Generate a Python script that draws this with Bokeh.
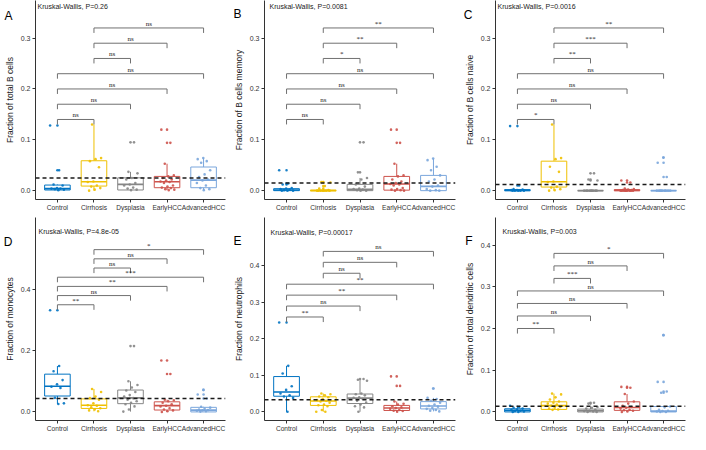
from bokeh.plotting import figure
from bokeh.layouts import gridplot
from bokeh.models import (Span, Label, LinearAxis, FixedTicker, NumeralTickFormatter,
                          CustomJSTickFormatter, Range1d, ColumnDataSource)
from bokeh.embed import file_html
from bokeh.resources import INLINE

FONT = "Liberation Sans"

groups = ["Control", "Cirrhosis", "Dysplasia", "EarlyHCC", "AdvancedHCC"]
colors = ["#0073C2", "#EFC000", "#868686", "#CD534C", "#7AA6DC"]
comparisons = [(0, 1), (0, 2), (0, 3), (0, 4), (1, 2), (1, 3), (1, 4)]

# ---------------- Panel A : total B cells ----------------
A_ylabel = "Fraction of total B cells"
A_kw = "Kruskal-Wallis, P=0.26"
A_q1 = [0.0013, 0.009, 0.0013, 0.0058, 0.0058]
A_med = [0.0039, 0.0174, 0.0123, 0.0174, 0.0207]
A_q3 = [0.011, 0.0588, 0.0252, 0.028, 0.0465]
A_lo = [0.001, 0.000, 0.001, 0.001, 0.001]
A_hi = [0.012, 0.130, 0.037, 0.053, 0.064]
A_pts = [
    [0.128, 0.040, 0.012, 0.010, 0.005, 0.004, 0.004, 0.003, 0.002, 0.001],
    [0.130, 0.064, 0.062, 0.058, 0.046, 0.018, 0.017, 0.010, 0.008, 0.005, 0.002, 0.000],
    [0.095, 0.037, 0.034, 0.025, 0.022, 0.015, 0.012, 0.010, 0.006, 0.004, 0.002, 0.001],
    [0.120, 0.094, 0.053, 0.030, 0.028, 0.025, 0.022, 0.020, 0.018, 0.017, 0.015, 0.010,
     0.008, 0.006, 0.005, 0.003, 0.002, 0.001],
    [0.064, 0.062, 0.058, 0.055, 0.040, 0.032, 0.027, 0.022, 0.020, 0.015, 0.010, 0.005, 0.003, 0.001],
]
A_ref = 0.025
A_br_y = [0.14, 0.17, 0.20, 0.23, 0.26, 0.29, 0.32]
A_br_lab = ["ns", "ns", "ns", "ns", "ns", "ns", "ns"]
A_yticks = [0.0, 0.1, 0.2, 0.3]

# ---------------- Panel B : B cells memory ----------------
B_ylabel = "Fraction of B cells memory"
B_kw = "Kruskal-Wallis, P=0.0081"
B_q1 = [0.0, 0.0, 0.0, 0.001, 0.0]
B_med = [0.0013, 0.0, 0.0026, 0.013, 0.0084]
B_q3 = [0.0039, 0.001, 0.0123, 0.028, 0.030]
B_lo = [0.0, 0.0, 0.0, 0.0, 0.0]
B_hi = [0.005, 0.001, 0.025, 0.053, 0.063]
B_pts = [
    [0.040, 0.014, 0.012, 0.005, 0.004, 0.003, 0.002, 0.001, 0.000, 0.000, 0.000],
    [0.017, 0.016, 0.009, 0.004, 0.001, 0.000, 0.000, 0.000, 0.000, 0.000, 0.000, 0.000],
    [0.095, 0.036, 0.025, 0.022, 0.012, 0.008, 0.004, 0.003, 0.002, 0.001, 0.000, 0.000],
    [0.120, 0.094, 0.053, 0.030, 0.028, 0.022, 0.018, 0.015, 0.013, 0.012, 0.010, 0.005,
     0.003, 0.002, 0.001, 0.000, 0.000],
    [0.063, 0.060, 0.047, 0.040, 0.030, 0.022, 0.018, 0.010, 0.008, 0.003, 0.001, 0.000, 0.000],
]
B_ref = 0.015
B_br_y = [0.14, 0.17, 0.20, 0.23, 0.26, 0.29, 0.32]
B_br_lab = ["ns", "ns", "ns", "ns", "*", "**", "**"]
B_yticks = [0.0, 0.1, 0.2, 0.3]

# ---------------- Panel C : B cells naive ----------------
C_ylabel = "Fraction of B cells naive"
C_kw = "Kruskal-Wallis, P=0.0016"
C_q1 = [0.0, 0.0071, 0.0, 0.0, 0.0]
C_med = [0.0005, 0.0174, 0.0, 0.0005, 0.0]
C_q3 = [0.002, 0.058, 0.0, 0.002, 0.0]
C_lo = [0.0, 0.0, 0.0, 0.0, 0.0]
C_hi = [0.003, 0.130, 0.0, 0.004, 0.0]
C_pts = [
    [0.127, 0.010, 0.003, 0.002, 0.001, 0.001, 0.000, 0.000, 0.000, 0.000, 0.000],
    [0.130, 0.064, 0.062, 0.047, 0.037, 0.018, 0.017, 0.008, 0.006, 0.003, 0.001, 0.000],
    [0.034, 0.022, 0.020, 0.000, 0.000, 0.000, 0.000, 0.000, 0.000, 0.000, 0.000, 0.000],
    [0.020, 0.016, 0.004, 0.003, 0.002, 0.001, 0.001, 0.000, 0.000, 0.000, 0.000, 0.000,
     0.000, 0.000, 0.000, 0.000],
    [0.065, 0.055, 0.027, 0.000, 0.000, 0.000, 0.000, 0.000, 0.000, 0.000, 0.000, 0.000],
]
C_ref = 0.012
C_br_y = [0.14, 0.17, 0.20, 0.23, 0.26, 0.29, 0.32]
C_br_lab = ["*", "ns", "ns", "ns", "**", "***", "**"]
C_yticks = [0.0, 0.1, 0.2, 0.3]

# ---------------- Panel D : monocytes ----------------
D_ylabel = "Fraction of monocytes"
D_kw = "Kruskal-Wallis, P=4.8e-05"
D_q1 = [0.052, 0.0114, 0.027, 0.0062, 0.0]
D_med = [0.084, 0.0218, 0.046, 0.0207, 0.006]
D_q3 = [0.1234, 0.0426, 0.0715, 0.033, 0.0150]
D_lo = [0.026, 0.002, 0.001, 0.0, 0.0]
D_hi = [0.150, 0.075, 0.100, 0.040, 0.017]
D_pts = [
    [0.332, 0.150, 0.133, 0.104, 0.090, 0.082, 0.078, 0.046, 0.028, 0.026],
    [0.075, 0.065, 0.050, 0.045, 0.040, 0.028, 0.022, 0.020, 0.015, 0.012, 0.008, 0.005, 0.002],
    [0.215, 0.100, 0.088, 0.080, 0.070, 0.065, 0.055, 0.050, 0.045, 0.040, 0.035, 0.030,
     0.025, 0.018, 0.008, 0.001],
    [0.168, 0.124, 0.040, 0.038, 0.035, 0.030, 0.025, 0.020, 0.018, 0.012, 0.008, 0.005, 0.002, 0.000],
    [0.072, 0.057, 0.044, 0.017, 0.014, 0.010, 0.008, 0.006, 0.005, 0.004, 0.002, 0.001],
]
D_ref = 0.044
D_br_y = [0.35, 0.38, 0.41, 0.44, 0.47, 0.50, 0.53]
D_br_lab = ["**", "ns", "**", "***", "ns", "ns", "*"]
D_yticks = [0.0, 0.2, 0.4]

# ---------------- Panel E : neutrophils ----------------
E_ylabel = "Fraction of neutrophils"
E_kw = "Kruskal-Wallis, P=0.00017"
E_q1 = [0.0426, 0.0174, 0.0226, 0.0035, 0.0078]
E_med = [0.054, 0.0296, 0.0374, 0.0104, 0.0157]
E_q3 = [0.0966, 0.041, 0.0487, 0.0174, 0.0278]
E_lo = [0.0, 0.0, 0.0, 0.0, 0.001]
E_hi = [0.126, 0.050, 0.088, 0.028, 0.038]
E_pts = [
    [0.245, 0.126, 0.105, 0.070, 0.060, 0.050, 0.045, 0.042, 0.038, 0.000],
    [0.050, 0.048, 0.045, 0.042, 0.040, 0.035, 0.032, 0.030, 0.028, 0.025, 0.020, 0.018,
     0.015, 0.005, 0.000, 0.000],
    [0.090, 0.088, 0.085, 0.050, 0.048, 0.045, 0.040, 0.038, 0.035, 0.030, 0.025, 0.020,
     0.015, 0.012, 0.000],
    [0.097, 0.071, 0.028, 0.022, 0.020, 0.015, 0.012, 0.010, 0.008, 0.005, 0.003, 0.002, 0.000],
    [0.064, 0.038, 0.035, 0.030, 0.025, 0.020, 0.016, 0.014, 0.010, 0.008, 0.005, 0.003, 0.001],
]
E_ref = 0.033
E_br_y = [0.26, 0.29, 0.32, 0.35, 0.38, 0.41, 0.44]
E_br_lab = ["**", "ns", "**", "**", "ns", "ns", "ns"]
E_yticks = [0.0, 0.1, 0.2, 0.3, 0.4]

# ---------------- Panel F : total dendritic cells ----------------
F_ylabel = "Fraction of total dendritic cells"
F_kw = "Kruskal-Wallis, P=0.003"
F_q1 = [0.0, 0.0061, 0.0, 0.0038, 0.0]
F_med = [0.0038, 0.0152, 0.003, 0.0107, 0.002]
F_q3 = [0.0076, 0.0243, 0.0068, 0.0243, 0.013]
F_lo = [0.0, 0.005, 0.0, 0.0, 0.0]
F_hi = [0.015, 0.044, 0.012, 0.043, 0.013]
F_pts = [
    [0.015, 0.012, 0.010, 0.008, 0.006, 0.005, 0.003, 0.002, 0.001, 0.000, 0.000],
    [0.044, 0.042, 0.035, 0.030, 0.025, 0.022, 0.020, 0.018, 0.015, 0.012, 0.010, 0.008, 0.006, 0.005],
    [0.022, 0.020, 0.012, 0.010, 0.008, 0.005, 0.003, 0.002, 0.001, 0.000, 0.000],
    [0.060, 0.058, 0.043, 0.025, 0.020, 0.015, 0.012, 0.010, 0.008, 0.005, 0.004, 0.003, 0.001, 0.000],
    [0.184, 0.072, 0.049, 0.046, 0.013, 0.011, 0.005, 0.003, 0.002, 0.001, 0.000, 0.000],
]
F_ref = 0.0137
F_br_y = [0.20, 0.23, 0.26, 0.29, 0.32, 0.35, 0.38]
F_br_lab = ["**", "ns", "ns", "ns", "***", "ns", "*"]
F_yticks = [0.0, 0.1, 0.2, 0.3, 0.4]


def make_panel(letter, ylabel, kw, q1, med, q3, lo, hi, pts, ref, br_y, br_lab, yticks,
               yrange, kw_y, kw_dx, letter_y, fig_h, bottom_border):
    ymin, ymax = yrange
    span = ymax - ymin
    p = figure(width=230, height=fig_h, x_range=Range1d(0.4, 5.6), y_range=Range1d(ymin, ymax),
               output_backend="svg", toolbar_location=None,
               min_border_left=29, min_border_right=5,
               min_border_top=0, min_border_bottom=bottom_border)
    p.grid.visible = False
    p.outline_line_color = None
    p.background_fill_color = "white"

    xs = [i + 1 for i in range(len(groups))]
    src = ColumnDataSource(dict(x=xs, q1=q1, med=med, q3=q3, lo=lo, hi=hi,
                                x0=[x - 0.35 for x in xs], x1=[x + 0.35 for x in xs],
                                color=colors))
    p.segment(x0="x", y0="q3", x1="x", y1="hi", line_color="color", line_width=1, source=src)
    p.segment(x0="x", y0="lo", x1="x", y1="q1", line_color="color", line_width=1, source=src)
    p.vbar(x="x", width=0.7, bottom="q1", top="q3", fill_color="white",
           line_color="color", line_width=1, source=src)
    p.segment(x0="x0", y0="med", x1="x1", y1="med", line_color="color", line_width=1.6, source=src)

    # outliers (at centre) and jittered points
    px, py, pc = [], [], []
    for g, vals in enumerate(pts):
        for v in vals:
            if v > hi[g] or v < lo[g]:
                px.append(g + 1)
                py.append(v)
                pc.append(colors[g])
        for j, v in enumerate(vals):
            off = (((j * 0.6180339887) + g * 0.37) % 1.0 - 0.5) * 0.4
            px.append(g + 1 + off)
            py.append(v)
            pc.append(colors[g])
    p.scatter(x=px, y=py, color=pc, size=2.6, line_width=0, alpha=0.9)

    p.add_layout(Span(location=ref, dimension="width", line_color="#1a1a1a",
                      line_dash="4 3", line_width=1.5))

    # significance brackets
    tick = 0.025 * span
    bx0, by0, bx1, by1 = [], [], [], []
    tx, ty = [], []
    for (i, j), y in zip(comparisons, br_y):
        bx0 += [i + 1, i + 1, j + 1]
        bx1 += [j + 1, i + 1, j + 1]
        by0 += [y, y, y]
        by1 += [y, y - tick, y - tick]
        tx.append((i + j) / 2 + 1)
        ty.append(y)
    p.segment(x0=bx0, y0=by0, x1=bx1, y1=by1, line_color="#707070", line_width=1)
    p.text(x=tx, y=ty, text=br_lab, text_font=FONT, text_font_size="7px",
           text_align="center", text_baseline="bottom", text_color="#222222")

    p.add_layout(Label(x=0.4, y=kw_y, x_offset=kw_dx, text=kw, text_font=FONT,
                       text_font_size="7px", text_baseline="middle", text_align="left",
                       text_color="#222222"))

    # axes
    p.xaxis.ticker = FixedTicker(ticks=xs)
    p.xaxis.major_label_overrides = {x: g for x, g in zip(xs, groups)}
    p.yaxis.ticker = FixedTicker(ticks=yticks)
    p.yaxis.formatter = NumeralTickFormatter(format="0.0")
    p.yaxis.axis_label = ylabel
    for ax in (p.xaxis, p.yaxis):
        ax.axis_line_color = "#333333"
        ax.axis_line_width = 1
        ax.major_tick_line_color = "#333333"
        ax.major_tick_out = 3
        ax.major_tick_in = 0
        ax.minor_tick_line_color = None
        ax.minor_tick_out = 0
        ax.minor_tick_in = 0
        ax.major_label_text_font = FONT
        ax.major_label_text_font_size = "7px"
        ax.major_label_text_color = "#333333"
        ax.major_label_standoff = 2
    p.xaxis.major_label_text_font_size = "6.6px"
    p.xaxis.major_label_standoff = 1
    p.yaxis.axis_label_text_font = FONT
    p.yaxis.axis_label_text_font_size = "8.5px"
    p.yaxis.axis_label_text_font_style = "normal"
    p.yaxis.axis_label_text_color = "#222222"
    p.yaxis.axis_label_standoff = 3

    # panel letter: an outer, line-less left axis with a single labelled tick
    letter_axis = LinearAxis(ticker=FixedTicker(ticks=[letter_y]),
                             formatter=CustomJSTickFormatter(code="return '%s';" % letter),
                             axis_line_color=None, major_tick_line_color=None,
                             minor_tick_line_color=None, major_tick_out=0, major_tick_in=0,
                             minor_tick_out=0, minor_tick_in=0,
                             major_label_standoff=-11, major_label_text_font=FONT,
                             major_label_text_font_size="12px", major_label_text_color="black")
    p.add_layout(letter_axis, "left")
    return p


pA = make_panel("A", A_ylabel, A_kw, A_q1, A_med, A_q3, A_lo, A_hi, A_pts, A_ref, A_br_y, A_br_lab,
                A_yticks, (-0.0174, 0.374), 0.363, 2, 0.344, 217, 18)
pB = make_panel("B", B_ylabel, B_kw, B_q1, B_med, B_q3, B_lo, B_hi, B_pts, B_ref, B_br_y, B_br_lab,
                B_yticks, (-0.0174, 0.374), 0.363, 5, 0.347, 217, 18)
pC = make_panel("C", C_ylabel, C_kw, C_q1, C_med, C_q3, C_lo, C_hi, C_pts, C_ref, C_br_y, C_br_lab,
                C_yticks, (-0.0174, 0.374), 0.363, 2, 0.345, 217, 18)
pD = make_panel("D", D_ylabel, D_kw, D_q1, D_med, D_q3, D_lo, D_hi, D_pts, D_ref, D_br_y, D_br_lab,
                D_yticks, (-0.028, 0.635), 0.588, 3, 0.554, 217, 10)
pE = make_panel("E", E_ylabel, E_kw, E_q1, E_med, E_q3, E_lo, E_hi, E_pts, E_ref, E_br_y, E_br_lab,
                E_yticks, (-0.024, 0.533), 0.493, 6, 0.469, 217, 10)
pF = make_panel("F", F_ylabel, F_kw, F_q1, F_med, F_q3, F_lo, F_hi, F_pts, F_ref, F_br_y, F_br_lab,
                F_yticks, (-0.0205, 0.466), 0.4315, 7, 0.4095, 217, 10)

grid = gridplot([[pA, pB, pC], [pD, pE, pF]], toolbar_location=None)

open("out.html", "w").write(file_html(grid, INLINE))
